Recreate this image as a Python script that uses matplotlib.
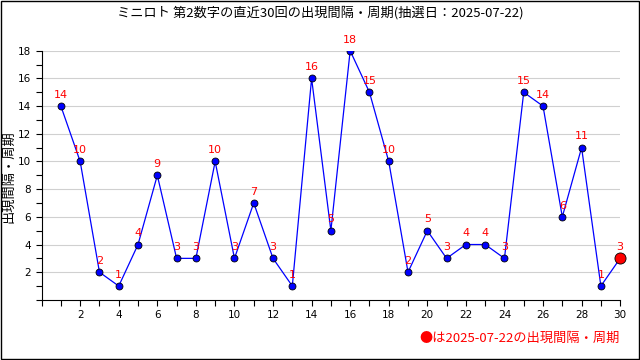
import numpy as np
import matplotlib
matplotlib.use("Agg")
import matplotlib.pyplot as plt
from matplotlib.ticker import MultipleLocator
from matplotlib.patches import Rectangle

plt.rcParams['font.family'] = ['Noto Sans CJK JP', 'DejaVu Sans']

# データ
kai = list(range(1, 31))
kankaku = [14, 10, 2, 1, 4, 9, 3, 3, 10, 3, 7, 3, 1, 16, 5, 18, 15, 10, 2, 5,
           3, 4, 4, 3, 15, 14, 6, 11, 1, 3]
title = "ミニロト 第2数字の直近30回の出現間隔・周期(抽選日：2025-07-22)"
ylabel = "出現間隔・周期"
footer = "●は2025-07-22の出現間隔・周期"

fig = plt.figure(figsize=(6.4, 3.6), dpi=100)
ax = fig.add_axes([0.065, 0.167, 0.904, 0.692])

# 外枠
fig.patches.append(Rectangle((0.001, 0.002), 0.997, 0.995, transform=fig.transFigure,
                             fill=False, edgecolor="black", linewidth=1.0))

ax.plot(kai[:-1], kankaku[:-1], color="blue", linewidth=0.9, marker="o", ms=5,
        markerfacecolor="blue", markeredgecolor="black", markeredgewidth=0.6, zorder=3)
ax.plot(kai[-2:], kankaku[-2:], color="blue", linewidth=0.9, zorder=2)
ax.plot(kai[-1], kankaku[-1], "o", ms=8, color="red", markeredgecolor="black",
        markeredgewidth=0.6, zorder=4, clip_on=False)

for x, y in zip(kai, kankaku):
    ax.text(x, y + 0.45, str(y), color="red", ha="center", va="bottom", fontsize=8,
            family="DejaVu Sans", zorder=5)

ax.set_xlim(0, 30)
ax.set_ylim(0, 18)
ax.xaxis.set_minor_locator(MultipleLocator(1))
ax.yaxis.set_minor_locator(MultipleLocator(1))
ax.set_xticks(range(2, 31, 2))
ax.set_yticks(range(2, 19, 2))
ax.tick_params(labelsize=7.5, length=4, width=0.8, direction="out")
ax.tick_params(which="minor", length=4, width=0.8)
for lab in ax.get_xticklabels() + ax.get_yticklabels():
    lab.set_family("DejaVu Sans")
ax.spines[['top', 'right']].set_visible(False)
ax.grid(axis="y", color="#d0d0d0", linewidth=0.8, zorder=0)
ax.set_axisbelow(True)

fig.text(0.014, 0.51, ylabel, rotation=90, ha="center", va="center", fontsize=9.5)
fig.text(0.5, 0.965, title, ha="center", va="center", fontsize=9.5)
fig.text(0.969, 0.06, footer, ha="right", va="center", fontsize=9.5, color="red")

fig.savefig("out.png", dpi=100)
